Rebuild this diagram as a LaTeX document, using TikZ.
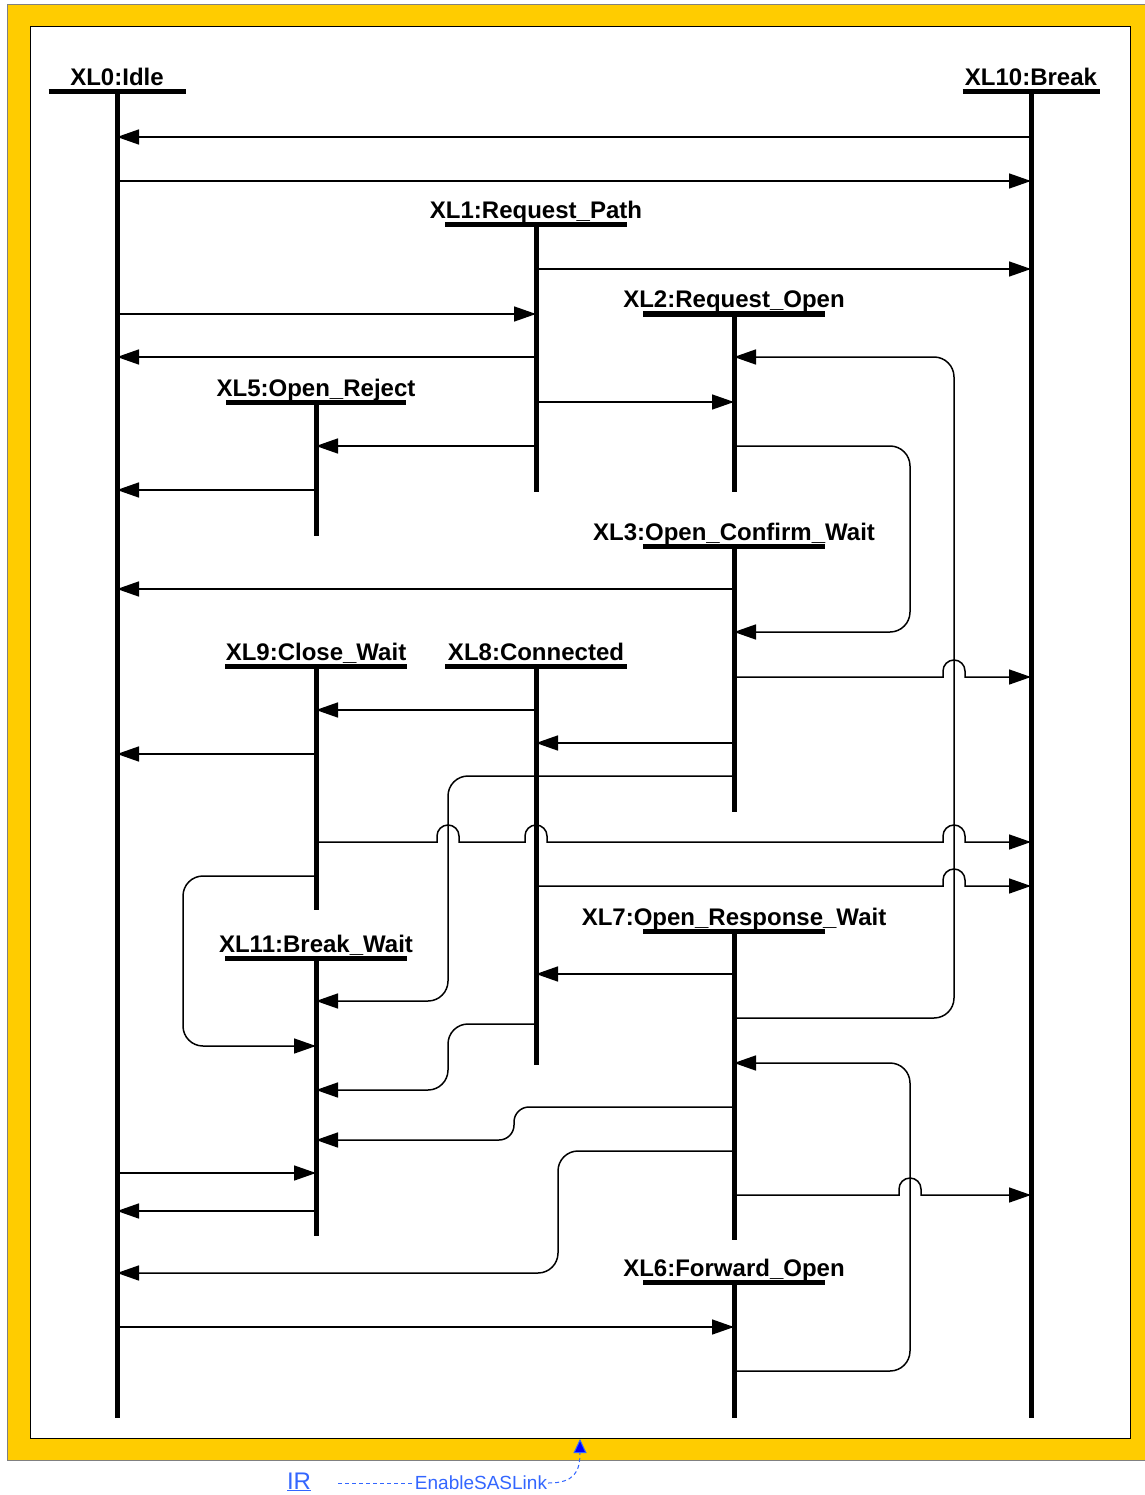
\documentclass[tikz,border=0pt]{standalone}
\usepackage{fontspec}
\setmainfont{Liberation Sans}
\usepackage{tikz}
\usetikzlibrary{arrows.meta}

\definecolor{frameyellow}{RGB}{255,204,0}
\definecolor{linkblue}{RGB}{51,102,255}

\begin{document}
\begin{tikzpicture}[ x = 1pt, y = -1pt
                   , >={Triangle[length=22pt, width=15pt]}
                   , state/.style = { anchor = base
                                    , inner sep = 0pt
                                    , font = \fontsize{24}{28}\selectfont\bfseries }
                   , bar/.style   = {line width = 5pt}
                   , life/.style  = {line width = 5pt}
                   , msg/.style   = {->, line width = 1.5pt}
                   , route/.style = {msg, rounded corners = 20pt}
                   , link/.style  = { draw = linkblue, line width = 1pt
                                    , dash pattern = on 4pt off 3pt }
                   ]

    \useasboundingbox (0,0) rectangle (1144,1495);
    %%
    %% Frame
    %%
    \filldraw[fill=frameyellow, draw=gray, line width=1pt] (7,5) rectangle (1160,1460);
    \filldraw[fill=white, draw=black, line width=1pt] (30,27) rectangle (1130,1438);

    %%
    %% States (label, bar, lifeline)
    %%
    \foreach \name/\x/\y/\w/\e/\txt in
      { idle/117/92/137/1418/XL0:Idle
      , brk/1031/92/137/1418/XL10:Break
      , reqpath/536/225/182/492/XL1:Request\_Path
      , reqopen/734/314/182/492/XL2:Request\_Open
      , openrej/316/402/180/536/XL5:Open\_Reject
      , confirm/734/546/182/812/XL3:Open\_Confirm\_Wait
      , closewait/316/666/182/910/XL9:Close\_Wait
      , connected/536/666/182/1065/XL8:Connected
      , brkwait/316/958/182/1236/XL11:Break\_Wait
      , respwait/734/931/182/1240/XL7:Open\_Response\_Wait
      , fwdopen/734/1282/182/1418/XL6:Forward\_Open }
    {
      \node[state] (\name) at (\x,\y-6) {\txt};
      \draw[bar] (\x-\w/2,\y) -- (\x+\w/2,\y);
      \draw[life] (\x,\y) -- (\x,\e);
    }

    %%
    %% Transitions (arrows)
    %%
    \draw[msg] (brk |- 0,137) -- (idle |- 0,137);
    \draw[msg] (idle |- 0,181) -- (brk |- 0,181);
    \draw[msg] (reqpath |- 0,269) -- (brk |- 0,269);
    \draw[msg] (idle |- 0,314) -- (reqpath |- 0,314);
    \draw[msg] (reqpath |- 0,357) -- (idle |- 0,357);
    \draw[msg] (reqpath |- 0,402) -- (reqopen |- 0,402);
    \draw[msg] (reqpath |- 0,446) -- (openrej |- 0,446);
    \draw[msg] (openrej |- 0,490) -- (idle |- 0,490);
    \draw[msg] (confirm |- 0,589) -- (idle |- 0,589);
    \draw[msg] (connected |- 0,710) -- (closewait |- 0,710);
    \draw[msg] (confirm |- 0,743) -- (connected |- 0,743);
    \draw[msg] (closewait |- 0,754) -- (idle |- 0,754);
    \draw[msg] (respwait |- 0,974) -- (connected |- 0,974);
    \draw[msg] (idle |- 0,1173) -- (brkwait |- 0,1173);
    \draw[msg] (brkwait |- 0,1211) -- (idle |- 0,1211);
    \draw[msg] (idle |- 0,1327) -- (fwdopen |- 0,1327);

    %% routed ones
    \draw[route] (respwait |- 0,1018) -- (954,1018) -- (954,357) -- (reqopen |- 0,357);
    \draw[route] (reqopen |- 0,446) -- (910,446) -- (910,632) -- (confirm |- 0,632);
    \draw[route] (confirm |- 0,776) -- (448,776) -- (448,1001) -- (brkwait |- 0,1001);
    \draw[route] (closewait |- 0,876) -- (183,876) -- (183,1046) -- (brkwait |- 0,1046);
    \draw[route] (connected |- 0,1024) -- (448,1024) -- (448,1090) -- (brkwait |- 0,1090);
    \draw[route] (fwdopen |- 0,1371) -- (910,1371) -- (910,1063) -- (respwait |- 0,1063);
    \draw[msg, rounded corners=15pt] (respwait |- 0,1107) -- (514,1107) -- (514,1140) -- (brkwait |- 0,1140);
    \draw[route] (respwait |- 0,1151) -- (558,1151) -- (558,1273) -- (idle |- 0,1273);

    %% with hops over crossing lines
    \draw[msg] (confirm |- 0,677) -- (943,677) -- ++(0,-6)
      arc[start angle=180, end angle=0, radius=11pt] -- ++(0,6) -- (brk |- 0,677);
    \draw[msg] (closewait |- 0,842)
      -- (437,842) -- ++(0,-6) arc[start angle=180, end angle=0, radius=11pt] -- ++(0,6)
      -- (525,842) -- ++(0,-6) arc[start angle=180, end angle=0, radius=11pt] -- ++(0,6)
      -- (943,842) -- ++(0,-6) arc[start angle=180, end angle=0, radius=11pt] -- ++(0,6)
      -- (brk |- 0,842);
    \draw[msg] (connected |- 0,886) -- (943,886) -- ++(0,-6)
      arc[start angle=180, end angle=0, radius=11pt] -- ++(0,6) -- (brk |- 0,886);
    \draw[msg] (respwait |- 0,1195) -- (899,1195) -- ++(0,-6)
      arc[start angle=180, end angle=0, radius=11pt] -- ++(0,6) -- (brk |- 0,1195);

    %%
    %% Link below the frame
    %%
    \node (ir)  [text=linkblue, font=\fontsize{24}{26}\selectfont, inner sep=0pt, anchor=base]
      at (299,1489) {\underline{IR}};
    \node (sas) [text=linkblue, font=\fontsize{19}{22}\selectfont, inner sep=1pt]
      at (481,1483) {EnableSASLink};
    \coordinate (enable) at (580,1439);
    \draw[link] ([xshift=27pt]ir.east |- sas.west) -- (sas.west);
    \draw[link, -{Triangle[length=14pt, width=13pt, fill=blue]}] (sas.east)
      .. controls (574,1483) and (580,1472) .. (enable);
  \end{tikzpicture}
\end{document}
